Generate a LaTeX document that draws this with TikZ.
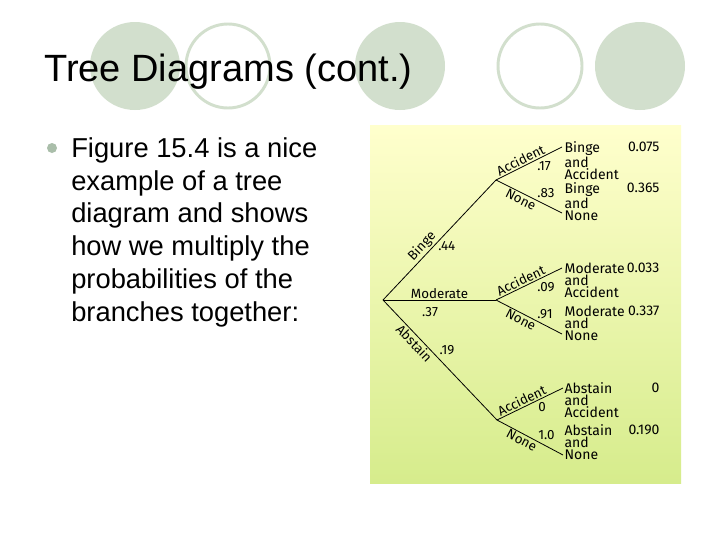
\documentclass[tikz,border=0pt]{standalone}
\usepackage{fontspec}
\setmainfont{Liberation Sans}
\newfontfamily\handfont{Fira Sans}
\usetikzlibrary{positioning}
\definecolor{deco}{RGB}{210,223,205}
\definecolor{bullet}{RGB}{170,190,170}
\begin{document}
\begin{tikzpicture}[x=0.75pt,y=-0.75pt]
  \tikzset{dot/.style = {fill=deco,draw=none}}
  \tikzset{ring/.style = {draw=deco,line width=2.2pt,fill=white}}
  \tikzset{edge/.style = {line width=0.6pt}}
  \tikzset{lab/.style = {font=\handfont\fontsize{10}{10}\selectfont,inner sep=1pt}}
  \tikzset{leaf/.style = {lab,align=left,anchor=north west,font=\handfont\fontsize{10.5}{9}\selectfont}}
  \tikzset{prob/.style = {lab,anchor=east,font=\handfont\fontsize{10.5}{10.5}\selectfont}}
  \useasboundingbox (0,0) rectangle (720,540);
  \fill[white] (0,0) rectangle (720,540);
  % decoration
  \fill[dot] (135,66) ellipse (45 and 44);
  \draw[ring] (228,66) ellipse (42 and 42);
  \fill[dot] (400,66) ellipse (45 and 44);
  \draw[ring] (540,66) ellipse (42 and 42);
  \fill[dot] (640,66) ellipse (45 and 44);
  \node[anchor=base west,font=\fontsize{28.5}{28.5}\selectfont,inner sep=0] (title) at (44,81) {Tree Diagrams (cont.)};
  % bullet
  \fill[bullet] (52,148) circle (5);
  \node[anchor=north west,align=left,inner sep=0,font=\fontsize{20.5}{24.7}\selectfont] (body) at (71,137)
    {Figure 15.4 is a nice\\example of a tree\\diagram and shows\\how we multiply the\\probabilities of the\\branches together:};
  % panel
  \shade[top color={rgb,255:red,255;green,255;blue,205},bottom color={rgb,255:red,214;green,236;blue,140}] (370,125) rectangle (681,483);
  % tree
  \coordinate (root) at (383,300);
  \coordinate (binge) at (496,180);
  \coordinate (moder) at (496,300);
  \coordinate (abst) at (497,420);
  \coordinate (bA) at (562,147);
  \coordinate (bN) at (562,213);
  \coordinate (mA) at (562,268);
  \coordinate (mN) at (562,334);
  \coordinate (aA) at (563,388);
  \coordinate (aN) at (563,455);
  \draw[edge] (root) -- node[lab,sloped,above,pos=0.4] {Binge} node[lab,right,pos=0.45,xshift=2] {.44} (binge);
  \draw[edge] (root) -- node[lab,above] {Moderate} (moder);
  \node[lab] (p37) at (430,312) {.37};
  \draw[edge] (root) -- node[lab,sloped,below,pos=0.32] {Abstain} (abst);
  \node[lab] (p19) at (447,350) {.19};
  \foreach \from/\to/\pa in {binge/bA/.17, moder/mA/.09, abst/aA/0} {
    \draw[edge] (\from) -- node[lab,sloped,above,pos=0.42] {Accident} node[lab,below right,pos=0.6] {\pa} (\to);
  }
  \foreach \from/\to/\pn in {binge/bN/.83, moder/mN/.91, abst/aN/1.0} {
    \draw[edge] (\from) -- node[lab,sloped,below,pos=0.42] {None} node[lab,above right,pos=0.6] {\pn} (\to);
  }
  % leaves
  \node[leaf] (lbA) at (563,140) {Binge\\and\\Accident};
  \node[leaf] (lbN) at (563,181) {Binge\\and\\None};
  \node[leaf] (lmA) at (563,261) {Moderate\\and\\Accident};
  \node[leaf] (lmN) at (563,304) {Moderate\\and\\None};
  \node[leaf] (laA) at (563,381) {Abstain\\and\\Accident};
  \node[leaf] (laN) at (563,423) {Abstain\\and\\None};
  \node[prob] (pbA) at (661,147) {0.075};
  \node[prob] (pbN) at (661,188) {0.365};
  \node[prob] (pmA) at (661,268) {0.033};
  \node[prob] (pmN) at (661,311) {0.337};
  \node[prob] (paA) at (661,388) {0};
  \node[prob] (paN) at (661,430) {0.190};
\end{tikzpicture}
\end{document}
